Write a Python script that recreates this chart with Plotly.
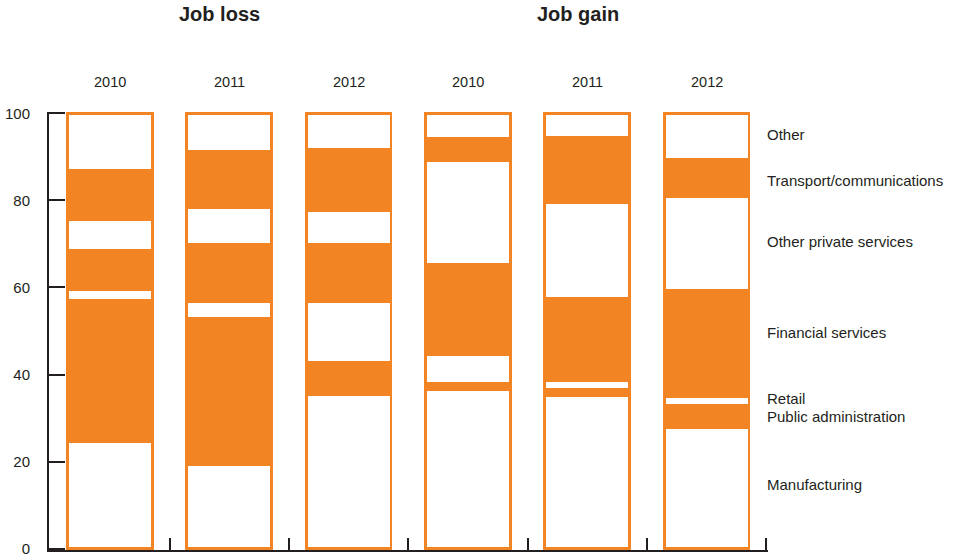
import plotly.graph_objects as go

# Categories: three years of job loss followed by three years of job gain
years = ["2010", "2011", "2012", "2010", "2011", "2012"]
groups = ["Job loss", "Job gain"]

# Sector shares (percent), stacked bottom to top
sectors = [
    "Manufacturing",
    "Public administration",
    "Retail",
    "Financial services",
    "Other private services",
    "Transport/communications",
    "Other",
]
manufacturing = [24.7, 19.3, 35.3, 36.5, 35.1, 27.7]
public_admin = [32.3, 33.6, 7.4, 1.5, 1.6, 5.3]
retail = [2.4, 3.9, 14.1, 6.5, 1.9, 2.0]
financial = [9.2, 13.1, 13.2, 20.7, 18.9, 24.4]
other_private = [7.1, 8.5, 7.6, 23.9, 22.0, 21.5]
transport = [11.1, 12.9, 14.1, 5.1, 14.9, 8.5]
other = [13.2, 8.7, 8.3, 5.8, 5.6, 10.6]

series = [manufacturing, public_admin, retail, financial, other_private, transport, other]

ORANGE = "#F38423"
INK = "#231F20"
FONT = "Liberation Sans, Arial, sans-serif"

x_pos = list(range(len(years)))

fig = go.Figure()
for i, (name, vals) in enumerate(zip(sectors, series)):
    fill = ORANGE if i % 2 == 1 else "white"
    fig.add_trace(go.Bar(
        x=x_pos, y=vals, name=name, width=0.71,
        marker=dict(color=fill, line=dict(color=ORANGE, width=2.8)),
        showlegend=False,
    ))

# Year labels above each bar
for xp, yr in zip(x_pos, years):
    fig.add_annotation(x=xp, xref="x", y=1.069, yref="paper", yanchor="middle",
                       text=yr, showarrow=False,
                       font=dict(size=14.5, color=INK, family=FONT))

# Group headings
for xp, g in zip([0.92, 3.92], groups):
    fig.add_annotation(x=xp, xref="x", y=1.224, yref="paper", yanchor="middle",
                       text="<b>%s</b>" % g, showarrow=False,
                       font=dict(size=20, color=INK, family=FONT))

# Sector labels on the right
label_y = [14.7, 30.3, 34.5, 49.6, 70.6, 84.6, 95.1]
for name, ly in zip(sectors, label_y):
    fig.add_annotation(x=0.9958, xref="paper", y=ly, yref="y", text=name,
                       xanchor="left", yanchor="middle", showarrow=False,
                       font=dict(size=15, color=INK, family=FONT))

fig.update_layout(
    barmode="stack",
    width=954, height=555,
    margin=dict(l=49, r=186, t=112, b=5, autoexpand=False),
    paper_bgcolor="white", plot_bgcolor="white",
    font=dict(family=FONT, color=INK, size=15),
    xaxis=dict(
        range=[-0.51, 5.515], showgrid=False, zeroline=False,
        showline=True, linecolor=INK, linewidth=2,
        tickvals=[0.5, 1.5, 2.5, 3.5, 4.5, 5.5], ticks="inside",
        ticklen=12, tickwidth=2, tickcolor=INK, showticklabels=False,
        layer="below traces", automargin=False,
    ),
    yaxis=dict(
        range=[-0.3, 100.3], showgrid=False, zeroline=False,
        showline=True, linecolor=INK, linewidth=2,
        tickvals=[0, 20, 40, 60, 80, 100], ticks="inside",
        ticklen=16, tickwidth=2, tickcolor=INK,
        ticklabelstandoff=14, ticklabeloverflow="allow",
        tickfont=dict(size=15, color=INK, family=FONT),
        layer="below traces", automargin=False,
    ),
)

fig.write_html("out.html")
